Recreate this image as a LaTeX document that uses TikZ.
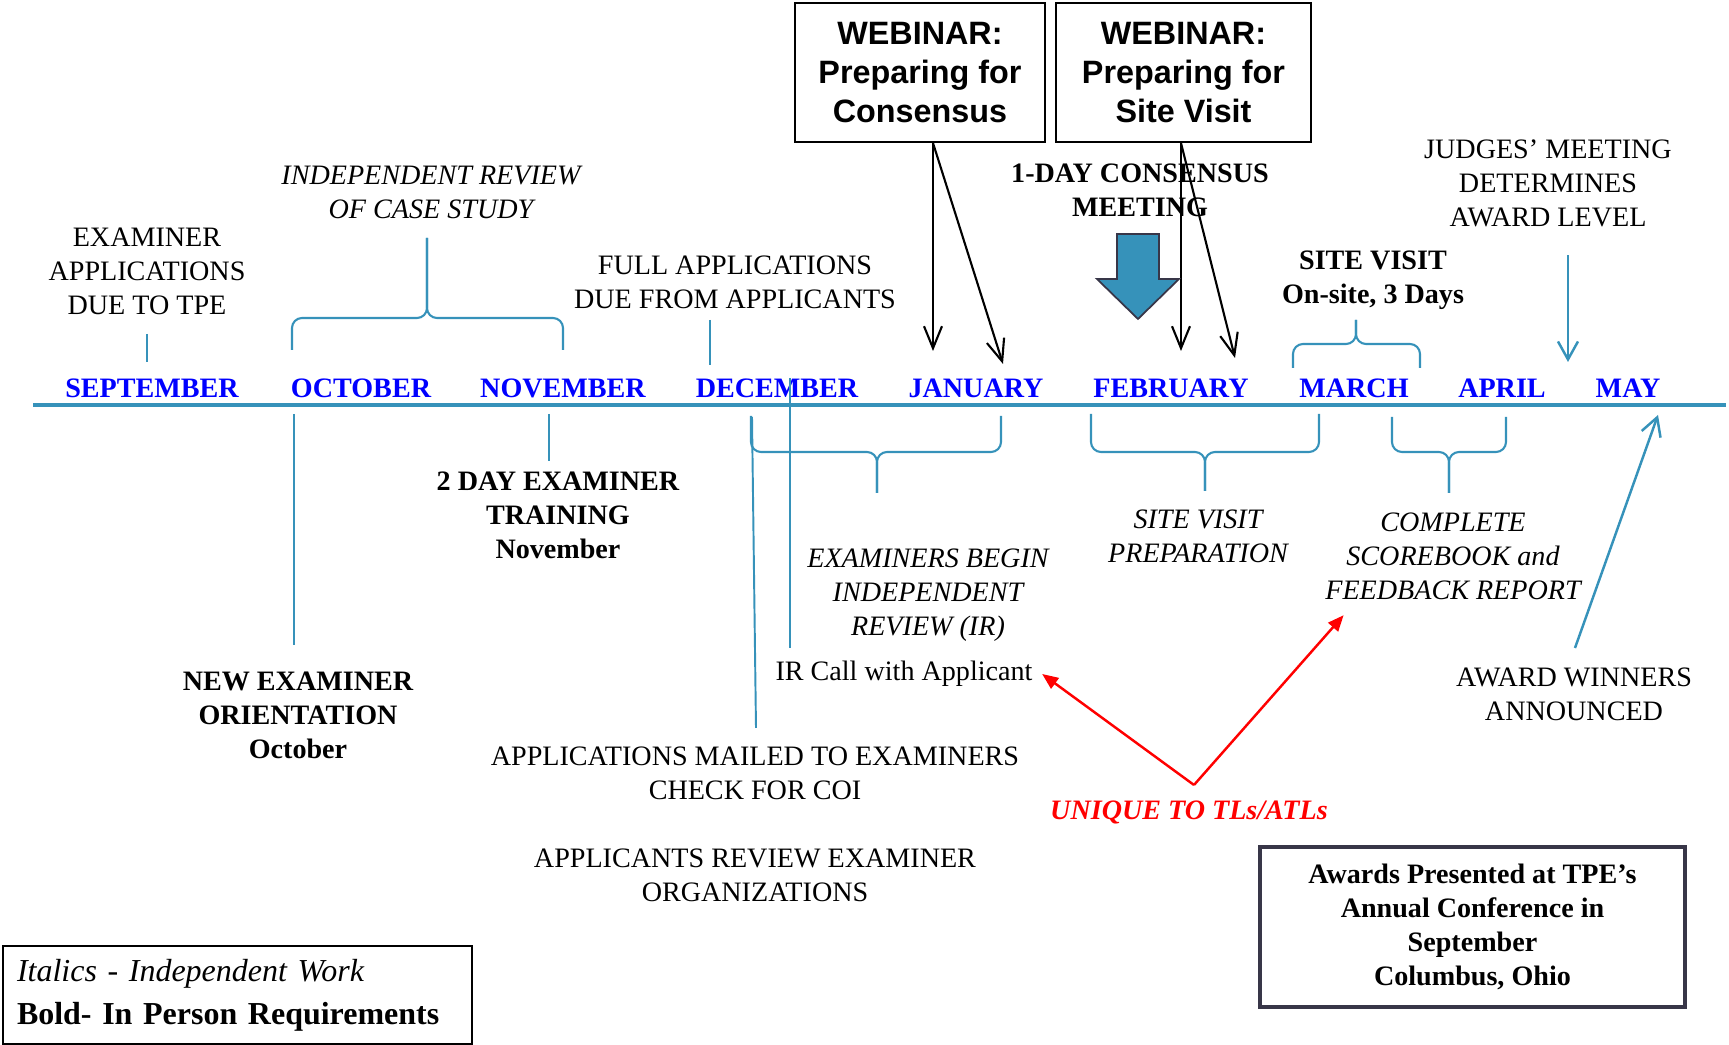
\documentclass[tikz,border=0pt]{standalone}
\usepackage{fontspec}
\setmainfont{Liberation Serif}
\newfontfamily\arialfont{Liberation Sans}
\usetikzlibrary{arrows.meta}

\definecolor{tlblue}{RGB}{54,146,186}
\definecolor{monthblue}{RGB}{0,0,255}
\definecolor{boxslate}{RGB}{56,54,72}

\tikzset{
  txt/.style={align=center, inner sep=0pt, font=\fontsize{8}{9.7}\selectfont},
  bftxt/.style={txt, font=\fontsize{8}{9.7}\selectfont\bfseries},
  ittxt/.style={txt, font=\fontsize{8}{9.7}\selectfont\itshape},
  month/.style={bftxt, text=monthblue},
  webbox/.style={draw, line width=0.6pt, align=center, minimum height=13.9mm,
    font=\arialfont\fontsize{9.2}{11.2}\selectfont\bfseries},
  tick/.style={tlblue, line width=0.55pt},
  brc/.style={tlblue, line width=0.6pt, rounded corners=1mm},
  webarr/.style={black, line width=0.6pt, -{Straight Barb[length=2.2mm,width=1.8mm]}},
  bluearr/.style={tlblue, line width=0.7pt, -{Straight Barb[length=1.8mm,width=2mm]}},
  redarr/.style={red, line width=0.7pt, -{Triangle[length=1.6mm,width=1.3mm]}}
}

\begin{document}
\begin{tikzpicture}[x=0.1mm, y=-0.1mm]
    \useasboundingbox (0,0) rectangle (1729,1045);

    % timeline and months
    \coordinate (tlL) at (33,405);
    \coordinate (tlR) at (1726,405);
    \draw [tlblue, line width=1.4pt] (tlL) -- (tlR);
    \node [month] (sep) at (152,388) {SEPTEMBER};
    \node [month] (oct) at (361,388) {OCTOBER};
    \node [month] (nov) at (563,388) {NOVEMBER};
    \node [month] (dec) at (777,388) {DECEMBER};
    \node [month] (jan) at (976,388) {JANUARY};
    \node [month] (feb) at (1171,388) {FEBRUARY};
    \node [month] (mar) at (1354,388) {MARCH};
    \node [month] (apr) at (1502,388) {APRIL};
    \node [month] (may) at (1628,388) {MAY};

    % above the line
    \node [txt] (exapp) at (147,271) {EXAMINER\\APPLICATIONS\\DUE TO TPE};
    \node [ittxt] (indrev) at (431,192) {INDEPENDENT REVIEW\\OF CASE STUDY};
    \node [txt] (fullapp) at (735,282) {FULL APPLICATIONS\\DUE FROM APPLICANTS};
    \node [webbox, minimum width=25mm] (web1) at (920,72.5) {WEBINAR:\\Preparing for\\Consensus};
    \node [webbox, minimum width=25.5mm] (web2) at (1183.5,72.5) {WEBINAR:\\Preparing for\\Site Visit};
    \node [bftxt] (consensus) at (1140,190) {1-DAY CONSENSUS\\MEETING};
    \node [bftxt] (sitevisit) at (1373,280) {SITE VISIT\\On-site, 3 Days};
    \node [txt] (judges) at (1548,183) {JUDGES’ MEETING\\DETERMINES\\AWARD LEVEL};

    \coordinate (t1a) at (147,334);  \coordinate (t1b) at (147,362);
    \coordinate (t2a) at (710,320);  \coordinate (t2b) at (710,365);
    \draw [tick] (t1a) -- (t1b);
    \draw [tick] (t2a) -- (t2b);

    \draw [brc] (292,350) -- (292,318) -- (427,318) -- (427,238);
    \draw [brc] (563,350) -- (563,318) -- (427,318) -- (427,238);
    \draw [brc] (1293,368) -- (1293,344) -- (1356,344) -- (1356,320);
    \draw [brc] (1420,368) -- (1420,344) -- (1356,344) -- (1356,320);

    \coordinate (w1a) at (933,351);  \coordinate (w1b) at (1003,364);
    \coordinate (w2a) at (1181,351); \coordinate (w2b) at (1235,358);
    \draw [webarr] (web1.south -| w1a) -- (w1a);
    \draw [webarr] (web1.south -| w1a) -- (w1b);
    \draw [webarr] (web2.south -| w2a) -- (w2a);
    \draw [webarr] (web2.south -| w2a) -- (w2b);

    \filldraw [fill=tlblue, draw=boxslate, line width=0.5pt]
        (1117,234) -- (1159,234) -- (1159,279) -- (1179,279) -- (1138,319)
        -- (1097,279) -- (1117,279) -- cycle;

    \coordinate (jdg) at (1568,362);
    \draw [bluearr] (judges.south -| jdg) ++(0,28) -- (jdg);

    % below the line
    \node [bftxt] (neworient) at (298,715) {NEW EXAMINER\\ORIENTATION\\October};
    \node [bftxt] (training) at (558,515) {2 DAY EXAMINER\\TRAINING\\November};
    \node [ittxt] (beginir) at (928,595) {EXAMINERS BEGIN\\INDEPENDENT\\REVIEW (IR)};
    \node [txt] (ircall) at (904,674) {IR Call with Applicant};
    \node [txt] (mailed) at (755,773) {APPLICATIONS MAILED TO EXAMINERS\\CHECK FOR COI};
    \node [txt] (appreview) at (755,875) {APPLICANTS REVIEW EXAMINER\\ORGANIZATIONS};
    \node [ittxt] (svprep) at (1198,536) {SITE VISIT\\PREPARATION};
    \node [ittxt] (scorebook) at (1453,556) {COMPLETE\\SCOREBOOK and\\FEEDBACK REPORT};
    \node [txt] (winners) at (1574,694) {AWARD WINNERS\\ANNOUNCED};
    \node [bftxt, text=red, font=\fontsize{8}{9.7}\selectfont\bfseries\itshape] (unique) at (1189,812) {UNIQUE TO TLs/ATLs};

    \coordinate (t3a) at (294,414);  \coordinate (t3b) at (294,645);
    \coordinate (t4a) at (549,414);  \coordinate (t4b) at (549,461);
    \coordinate (t5a) at (752,417);  \coordinate (t5b) at (756,728);
    \coordinate (t6a) at (790,378);  \coordinate (t6b) at (790,648);
    \draw [tick] (t3a) -- (t3b);
    \draw [tick] (t4a) -- (t4b);
    \draw [tick] (t5a) -- (t5b);
    \draw [tick] (t6a) -- (t6b);

    \draw [brc] (751,416) -- (751,452) -- (877,452) -- (877,493);
    \draw [brc] (1001,416) -- (1001,452) -- (877,452) -- (877,493);
    \draw [brc] (1091,414) -- (1091,452) -- (1205,452) -- (1205,491);
    \draw [brc] (1319,414) -- (1319,452) -- (1205,452) -- (1205,491);
    \draw [brc] (1392,417) -- (1392,452) -- (1449,452) -- (1449,493);
    \draw [brc] (1506,417) -- (1506,452) -- (1449,452) -- (1449,493);

    \coordinate (uqtop) at (1194,785);
    \draw [redarr] (uqtop) -- ([xshift=0.9mm]ircall.east);
    \draw [redarr] (uqtop) -- ([shift={(19,15)}]scorebook.south west);

    \coordinate (wintop) at (1575,648);
    \coordinate (maytip) at (1658,415);
    \draw [bluearr] (wintop) -- (maytip);

    % boxes
    \node [draw=boxslate, line width=1.4pt, align=center, minimum width=42.5mm,
        minimum height=16mm, font=\fontsize{8}{9.7}\selectfont\bfseries] (awards)
        at (1472.5,927) {Awards Presented at TPE’s\\Annual Conference in\\September\\Columbus, Ohio};
    \node [draw, line width=0.6pt, align=left, text width=44.1mm, inner xsep=1.4mm,
        minimum height=9.8mm, font=\fontsize{9.1}{11.3}\selectfont] (legend)
        at (237.5,995) {\textit{Italics - Independent Work}\\[0.3mm]\textbf{Bold- In Person Requirements}};
\end{tikzpicture}
\end{document}
